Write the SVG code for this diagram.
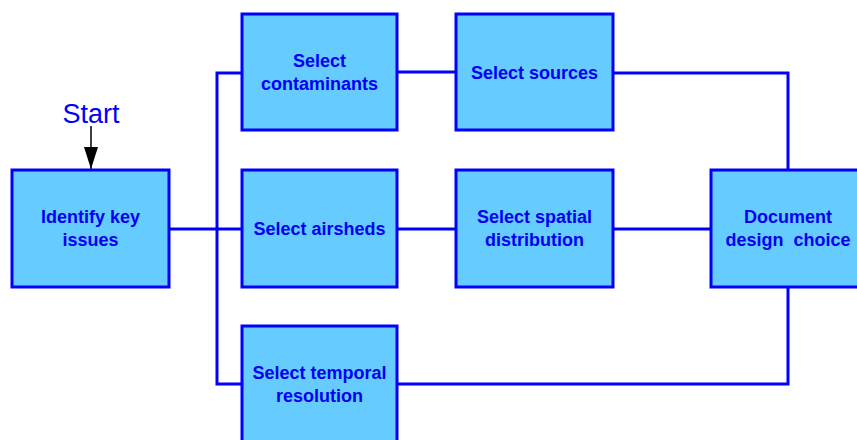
<svg xmlns="http://www.w3.org/2000/svg" width="857" height="440" viewBox="0 0 857 440">
  <style>
    .box { fill: #66ccff; stroke: #0000ff; stroke-width: 3; }
    .wire { fill: none; stroke: #0000ff; stroke-width: 3; }
    .lbl { font-family: "Liberation Sans", Arial, sans-serif; font-weight: bold; font-size: 18px; fill: #0000f5; text-anchor: middle; }
    .start { font-family: "Liberation Sans", Arial, sans-serif; font-size: 27px; fill: #0000f5; text-anchor: middle; }
  </style>
  <defs>
    <marker id="arrow" viewBox="0 0 22 14" refX="22" refY="7" markerWidth="22" markerHeight="14" markerUnits="userSpaceOnUse" orient="auto">
      <path d="M0,0 L22,7 L0,14 z" fill="#000"/>
    </marker>
  </defs>
  <rect width="857" height="440" fill="#fff"/>

  <g id="connectors">
    <line x1="91" y1="126" x2="91" y2="169" stroke="#000" stroke-width="1.5" marker-end="url(#arrow)"/>
    <polyline class="wire" points="242,73 217,73 217,384 242,384"/>
    <line class="wire" x1="169" y1="229" x2="242" y2="229"/>
    <line class="wire" x1="397" y1="72" x2="456" y2="72"/>
    <line class="wire" x1="397" y1="229" x2="456" y2="229"/>
    <line class="wire" x1="613" y1="229" x2="711" y2="229"/>
    <polyline class="wire" points="613,73 788,73 788,170"/>
    <polyline class="wire" points="397,384 788,384 788,287"/>
  </g>

  <text class="start" x="91" y="123">Start</text>

  <g id="identify">
    <rect class="box" x="12" y="170" width="157" height="117"/>
    <text class="lbl" x="90.5" y="223">Identify key</text>
    <text class="lbl" x="90.5" y="246">issues</text>
  </g>
  <g id="contaminants">
    <rect class="box" x="242" y="14" width="155" height="116"/>
    <text class="lbl" x="319.5" y="67">Select</text>
    <text class="lbl" x="319.5" y="90">contaminants</text>
  </g>
  <g id="sources">
    <rect class="box" x="456" y="14" width="157" height="116"/>
    <text class="lbl" x="534.5" y="79">Select sources</text>
  </g>
  <g id="airsheds">
    <rect class="box" x="242" y="170" width="155" height="117"/>
    <text class="lbl" x="319.5" y="235">Select airsheds</text>
  </g>
  <g id="spatial">
    <rect class="box" x="456" y="170" width="157" height="117"/>
    <text class="lbl" x="534.5" y="223">Select spatial</text>
    <text class="lbl" x="534.5" y="246">distribution</text>
  </g>
  <g id="document">
    <rect class="box" x="711" y="170" width="157" height="117"/>
    <text class="lbl" x="788" y="223">Document</text>
    <text class="lbl" x="788" y="246" xml:space="preserve">design  choice</text>
  </g>
  <g id="temporal">
    <rect class="box" x="242" y="326" width="155" height="117"/>
    <text class="lbl" x="319.5" y="379">Select temporal</text>
    <text class="lbl" x="319.5" y="402">resolution</text>
  </g>
</svg>
